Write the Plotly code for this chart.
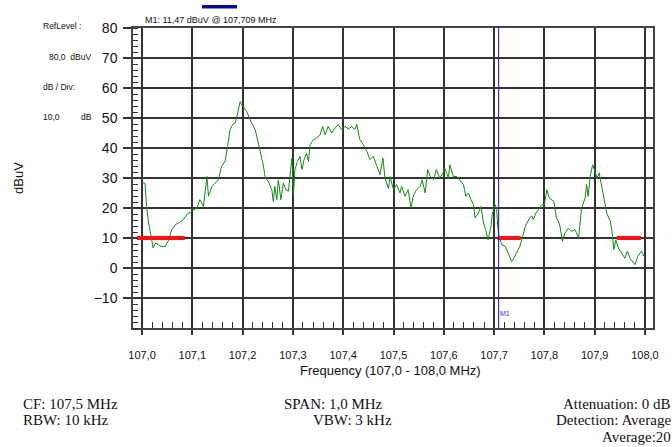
import plotly.graph_objects as go

# ---- data ----
freq_mhz = [107.000, 107.006, 107.009, 107.013, 107.018, 107.022, 107.027, 107.032, 107.038, 107.046,
            107.052, 107.059, 107.066, 107.072, 107.082, 107.089, 107.099, 107.109, 107.115, 107.122,
            107.129, 107.132, 107.139, 107.145, 107.152, 107.158, 107.165, 107.170, 107.175, 107.180,
            107.185, 107.188, 107.191, 107.195, 107.198, 107.201, 107.208, 107.215, 107.218, 107.225,
            107.228, 107.233, 107.235, 107.241, 107.245, 107.251, 107.258, 107.261, 107.264, 107.268,
            107.271, 107.276, 107.281, 107.286, 107.291, 107.294, 107.298, 107.301, 107.304, 107.309,
            107.314, 107.318, 107.322, 107.327, 107.331, 107.334, 107.341, 107.347, 107.354, 107.359,
            107.364, 107.370, 107.377, 107.384, 107.390, 107.397, 107.404, 107.410, 107.417, 107.423,
            107.427, 107.433, 107.440, 107.447, 107.453, 107.460, 107.467, 107.473, 107.479, 107.483,
            107.490, 107.493, 107.500, 107.506, 107.513, 107.516, 107.523, 107.529, 107.535, 107.539,
            107.546, 107.553, 107.557, 107.563, 107.568, 107.573, 107.580, 107.585, 107.592, 107.599,
            107.602, 107.609, 107.612, 107.619, 107.626, 107.632, 107.639, 107.644, 107.649, 107.654,
            107.659, 107.662, 107.669, 107.674, 107.679, 107.683, 107.688, 107.694, 107.696, 107.702,
            107.705, 107.707, 107.709, 107.715, 107.722, 107.728, 107.735, 107.738, 107.745, 107.751,
            107.755, 107.762, 107.771, 107.775, 107.778, 107.783, 107.788, 107.795, 107.800, 107.805,
            107.810, 107.815, 107.819, 107.824, 107.828, 107.831, 107.836, 107.841, 107.848, 107.854,
            107.861, 107.868, 107.871, 107.874, 107.881, 107.884, 107.887, 107.891, 107.896, 107.901,
            107.905, 107.909, 107.914, 107.918, 107.924, 107.931, 107.934, 107.938, 107.942, 107.947,
            107.954, 107.960, 107.965, 107.970, 107.980, 107.986, 107.993, 108.000]
level_dbuv = [28.5, 28.2, 20.5, 15.0, 10.5, 6.7, 8.3, 7.7, 7.2, 7.2,
              8.9, 12.8, 14.4, 15.0, 16.1, 17.8, 18.9, 20.0, 22.8, 20.5,
              30.5, 23.9, 27.2, 28.3, 29.4, 33.9, 35.5, 40.5, 46.1, 47.8,
              48.3, 50.0, 52.8, 55.5, 54.4, 53.9, 52.2, 49.4, 48.3, 46.1,
              43.9, 40.0, 38.0, 34.4, 30.0, 28.9, 26.1, 22.2, 27.2, 22.8,
              29.4, 22.8, 28.3, 26.1, 25.6, 30.5, 36.7, 24.4, 32.8, 35.5,
              37.2, 32.8, 36.1, 38.3, 35.5, 41.1, 42.8, 43.3, 44.4, 47.2,
              44.4, 47.2, 45.0, 46.7, 47.8, 46.1, 47.2, 46.3, 47.2, 46.1,
              47.8, 42.8, 41.1, 38.9, 36.1, 37.2, 33.9, 31.1, 36.7, 30.0,
              26.5, 30.5, 26.1, 27.8, 25.0, 27.2, 23.9, 26.1, 20.0, 23.9,
              26.1, 27.2, 29.4, 25.0, 32.8, 30.5, 29.4, 32.8, 30.0, 31.7,
              33.3, 30.0, 34.4, 30.5, 30.5, 29.4, 27.8, 23.9, 25.0, 22.8,
              21.1, 16.7, 18.3, 20.5, 15.0, 12.8, 9.4, 13.9, 17.8, 21.1,
              20.0, 14.4, 11.5, 7.8, 7.2, 5.0, 2.2, 2.8, 5.0, 7.2,
              9.4, 13.9, 16.7, 17.4, 16.1, 18.3, 19.4, 21.1, 21.1, 26.1,
              23.3, 22.8, 22.2, 16.7, 15.6, 13.9, 8.9, 11.7, 13.3, 12.2,
              12.8, 10.0, 15.0, 20.0, 23.3, 27.8, 23.9, 30.5, 34.4, 32.2,
              30.0, 31.7, 27.2, 23.9, 18.3, 15.6, 12.8, 6.1, 9.4, 6.7,
              5.0, 3.3, 5.6, 3.3, 1.1, 3.9, 5.6, 3.3]

limit_start_mhz = [106.990, 107.707, 107.944]
limit_end_mhz = [107.085, 107.753, 107.992]
limit_level_dbuv = [10, 10, 10]

marker_freq_mhz = 107.709
x_tick_vals = [107.0, 107.1, 107.2, 107.3, 107.4, 107.5, 107.6, 107.7, 107.8, 107.9, 108.0]
x_tick_text = ["107,0", "107,1", "107,2", "107,3", "107,4", "107,5", "107,6", "107,7", "107,8", "107,9", "108,0"]
y_tick_vals = [-10, 0, 10, 20, 30, 40, 50, 60, 70, 80]

# ---- figure ----
W, H = 672, 447
L, R, T, B = 133, 19, 28, 119
PW, PH = W - L - R, H - T - B

def px(x):
    return (x - L) / PW

def py(y):
    return (H - B - y) / PH

fig = go.Figure()
fig.add_trace(go.Scatter(x=freq_mhz, y=level_dbuv, mode="lines",
                         line=dict(color="#138a13", width=1), hoverinfo="skip"))

lx, ly = [], []
for s, e, v in zip(limit_start_mhz, limit_end_mhz, limit_level_dbuv):
    lx += [s, e, None]
    ly += [v, v, None]
fig.add_trace(go.Scatter(x=lx, y=ly, mode="lines", line=dict(color="#ff1010", width=4)))

fig.add_shape(type="line", x0=marker_freq_mhz, x1=marker_freq_mhz, y0=-20, y1=80,
              xref="x", yref="y", line=dict(color="#1010ff", width=1))
fig.add_shape(type="rect", xref="paper", yref="paper", x0=px(202), x1=px(237), y0=py(8.5), y1=py(5),
              fillcolor="#0a0a9a", line=dict(width=0))

grid = "#333333"
fig.update_layout(
    width=W, height=H, margin=dict(l=L, r=R, t=T, b=B),
    plot_bgcolor="white", paper_bgcolor="white", showlegend=False,
    font=dict(family="Liberation Sans, Arial, sans-serif", color="#111"),
    xaxis=dict(range=[106.982, 108.016], tickvals=x_tick_vals, ticktext=x_tick_text,
               showgrid=True, gridcolor=grid, gridwidth=1.5, zeroline=False,
               showline=True, linecolor="#444", linewidth=1.5, mirror=True,
               ticks="outside", ticklen=5, tickcolor="#333", tickwidth=1.5,
               tickfont=dict(size=11), ticklabelstandoff=11,
               minor=dict(dtick=0.02, tick0=107.0, ticks="inside", ticklen=6,
                          tickcolor="#333", tickwidth=1, showgrid=False)),
    yaxis=dict(range=[-20, 80], tickvals=y_tick_vals,
               showgrid=True, gridcolor=grid, gridwidth=1.5, zeroline=False,
               showline=True, linecolor="#444", linewidth=1.5, mirror=True,
               ticks="outside", ticklen=8, tickcolor="#333", tickwidth=1.5,
               tickfont=dict(size=14), ticklabelstandoff=3,
               minor=dict(dtick=2, tick0=0, ticks="inside", ticklen=5,
                          tickcolor="#333", tickwidth=1, showgrid=False)),
)

def ann(text, x, y, size, xanchor="left", color="#111", family=None, angle=0):
    f = dict(size=size, color=color)
    if family:
        f["family"] = family
    fig.add_annotation(text=text, xref="paper", yref="paper", x=px(x), y=py(y),
                       xanchor=xanchor, yanchor="middle", showarrow=False, font=f, textangle=angle,
                       borderpad=0)

ann("M1: 11,47 dBuV @ 107,709 MHz", 144, 20, 9)
ann("RefLevel :", 42, 26, 8.5)
ann("80,0  dBuV", 48, 57, 8.5)
ann("dB / Div:", 42, 87, 8.5)
ann("10,0", 42, 117, 8.5)
ann("dB", 80, 117, 8.5)
ann("dBuV", 18, 178, 13, xanchor="center", angle=-90)
ann("Frequency (107,0 - 108,0 MHz)", 390, 370, 13, xanchor="center")
ann("M1", 499, 313, 7, color="#3030ff")

serif = "Liberation Serif, Times New Roman, serif"
ann("CF: 107,5 MHz", 22, 404, 15, family=serif)
ann("RBW: 10 kHz", 22, 420, 15, family=serif)
ann("SPAN: 1,0 MHz", 283, 404, 15, family=serif)
ann("VBW: 3 kHz", 393, 420, 15, xanchor="right", family=serif)
ann("Attenuation: 0 dB", 672, 404, 15, xanchor="right", family=serif)
ann("Detection: Average", 672, 420, 15, xanchor="right", family=serif)
ann("Average:20", 672, 437, 15, xanchor="right", family=serif)

fig.write_html("out.html", config={"displayModeBar": False},
               post_script="document.body.style.margin='0';document.body.style.overflow='hidden';")
